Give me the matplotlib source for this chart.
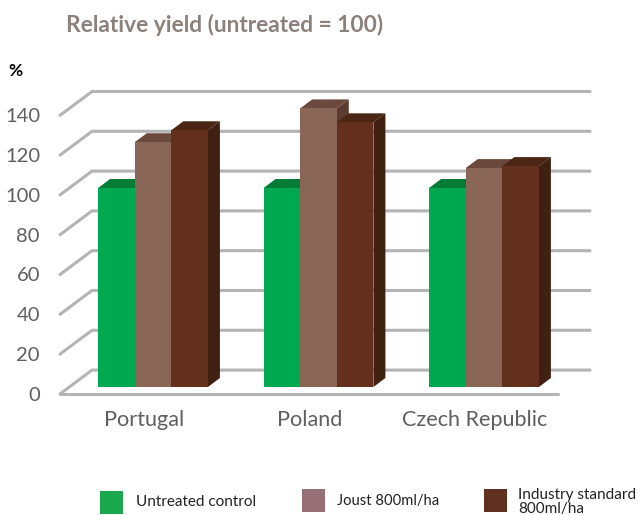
import matplotlib
matplotlib.use('Agg')
import matplotlib.pyplot as plt
from matplotlib.patches import Polygon, Rectangle
import numpy as np

plt.rcParams['font.family'] = ['Lato', 'DejaVu Sans']

countries = ['Portugal', 'Poland', 'Czech Republic']
untreated = [100, 100, 100]
joust = [123, 140, 110]
industry = [129, 133, 111]
y_ticks = [0, 20, 40, 60, 80, 100, 120, 140]
legend_labels = ['Untreated control', 'Joust 800ml/ha', 'Industry standard\n800ml/ha']

W, H = 638, 515
PX_X = 165.5   # pixels per category
PX_Y = 1.99    # pixels per percent

fig = plt.figure(figsize=(W / 100, H / 100), dpi=100)
ax = fig.add_axes([0, 0, 1, 1])
ax.set_xlim(-153 / PX_X, (W - 153) / PX_X)
ax.set_ylim(-(H - 387) / PX_Y, 387 / PX_Y)
ax.axis('off')

# wall and floor offsets, in data units
back_dy = 8.5
front_dy = -3.5
depth_x = 32 / PX_X
grid_w = 498 / PX_X
x_front = (60 - 153) / PX_X
grid_col = '#b4b4b4'

for v in y_ticks:
    yb = v + back_dy
    yf = v + front_dy
    ax.plot([x_front, x_front + depth_x, x_front + depth_x + grid_w], [yf, yb, yb],
            color=grid_col, lw=2.2, solid_capstyle='round', solid_joinstyle='miter', zorder=1)
    ax.text((40 - 153) / PX_X, yf - 0.7, str(v), color='#5f5f5f', fontsize=14.5,
            ha='right', va='center')
ax.plot([x_front, x_front + grid_w], [front_dy, front_dy], color=grid_col, lw=2.2,
        solid_capstyle='round', zorder=1)

series = [untreated, joust, industry]
front_cols = ['#00a94f', '#8a6656', '#63301d']
top_cols = ['#047c38', '#6b4a3d', '#4b2614']
side_cols = ['#04683a', '#5a3c30', '#3f2011']
bw = 36.6 / PX_X
dx = 12 / PX_X
dy = 9 / PX_Y
x = np.arange(len(countries))

for i, vals in enumerate(series):
    pos = x + (i - 1) * bw
    ax.bar(pos, vals, width=bw, color=front_cols[i], zorder=3 + i * 2)
    for p, v in zip(pos, vals):
        l, r = p - bw / 2, p + bw / 2
        ax.add_patch(Polygon([(l, v), (l + dx, v + dy), (r + dx, v + dy), (r, v)],
                             closed=True, fc=top_cols[i], ec='none', zorder=2 + i * 2))
        ax.add_patch(Polygon([(r, 0), (r + dx, dy), (r + dx, v + dy), (r, v)],
                             closed=True, fc=side_cols[i], ec='none', zorder=2 + i * 2))

for p, name in zip(x, countries):
    ax.text(p - 9 / PX_X, -(420 - 387) / PX_Y, name, color='#5f5f5f', fontsize=15.6,
            ha='center', va='center')

fig.text(66 / W, 1 - 25 / H, 'Relative yield (untreated = 100)', color='#8b807a',
         fontsize=16.4, fontweight='bold', va='center')
fig.text(8 / W, 1 - 71 / H, '%', color='black', fontsize=12.5, fontweight='bold', va='center')

# legend
box_x = [100, 302, 484]
box_y = [491, 489, 489]
text_x = [136, 337, 518]
leg_cols = ['#19a84e', '#967076', '#60311e']
leg_sizes = [11, 10.6, 11]
for bx, by, tx, col, lab, fs in zip(box_x, box_y, text_x, leg_cols, legend_labels, leg_sizes):
    fig.add_artist(Rectangle((bx / W, 1 - (by + 23) / H), 23 / W, 23 / H,
                             transform=fig.transFigure, fc=col, ec='none'))
    fig.text(tx / W, 1 - 501.5 / H, lab, color='#222222', fontsize=fs, va='center',
             linespacing=1.0)

fig.savefig('out.png', dpi=100)
